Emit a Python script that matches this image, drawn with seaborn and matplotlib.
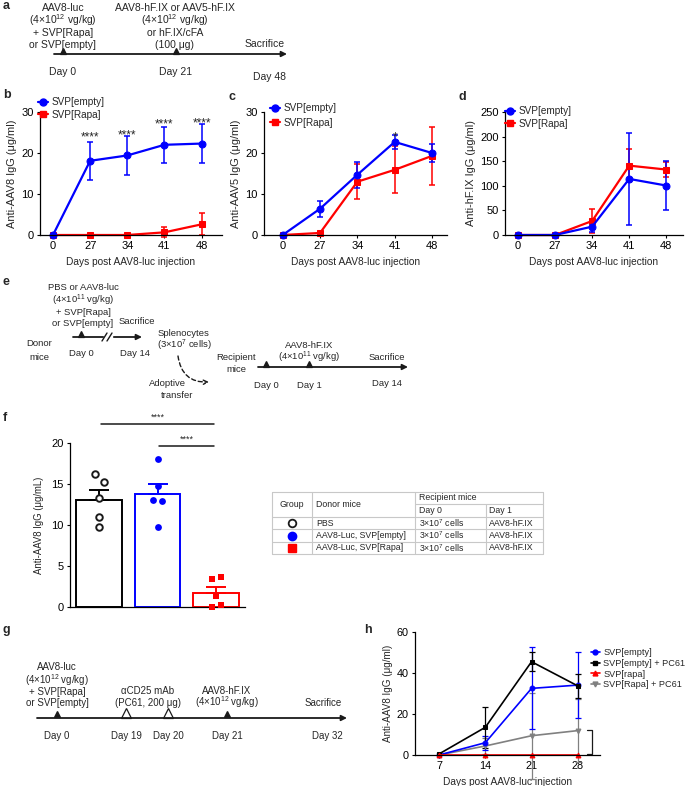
import numpy as np
import pandas as pd
import matplotlib
matplotlib.use("Agg")
import matplotlib.pyplot as plt
import seaborn as sns
from matplotlib.lines import Line2D

# ---------------- data ----------------
days_bcd = [0, 27, 34, 41, 48]

b_empty = [0, 18.1, 19.4, 22.0, 22.3]
b_empty_err = [0, 4.7, 4.8, 4.4, 4.85]
b_rapa = [0, 0, 0, 0.65, 2.6]
b_rapa_err = [0, 0, 0, 1.2, 2.7]
b_stars = ["", "****", "****", "****", "****"]
b_star_y = [0, 25.1, 25.7, 28.3, 28.7]

c_empty = [0, 6.4, 14.7, 22.7, 20.0]
c_empty_err = [0, 2.0, 3.2, 1.7, 2.2]
c_rapa = [0, 0.5, 13.0, 15.9, 19.3]
c_rapa_err = [0, 0, 4.3, 5.7, 7.0]
c_stars = ["", "", "", "*", ""]
c_star_y = [0, 0, 0, 25.1, 0]

d_empty = [0, 0, 17, 114, 100.5]
d_empty_err = [0, 0, 10, 93, 50]
d_rapa = [0, 0, 28.5, 141, 133]
d_rapa_err = [0, 0, 24, 33, 16]

f_groups = ["PBS", "AAV8-Luc, SVP[empty]", "AAV8-Luc, SVP[Rapa]"]
f_means = [13.1, 13.8, 1.75]
f_sem = [1.2, 1.25, 0.75]
f_pbs = [16.2, 15.2, 13.3, 11.0, 9.75]
f_empty = [18.0, 14.75, 13.1, 12.9, 9.75]
f_rapa = [3.4, 3.6, 1.35, 0.05, 0.2]

h_days = [7, 14, 21, 28]
h_empty = [0, 6.0, 32.5, 34.1]
h_empty_err = [0, 3.4, 20, 16]
h_empty_pc61 = [0.5, 13.5, 45.5, 33.7]
h_empty_pc61_err = [0, 10, 4.6, 5.7]
h_rapa = [0, 0, 0, 0]
h_rapa_err = [0, 0, 0, 0]
h_rapa_pc61 = [0, 4.4, 9.4, 11.9]
h_rapa_pc61_err = [0, 4, 21, 15.4]

BLUE = "#0000ff"
RED = "#ff0000"
GRAY = "#808080"

# ---------------- style ----------------
sns.set_theme(style="ticks")
plt.rcParams.update({
    "font.family": ["Liberation Sans", "DejaVu Sans"],
    "font.size": 7.5,
    "mathtext.fontset": "custom",
    "mathtext.rm": "Liberation Sans",
    "mathtext.it": "Liberation Sans:italic",
    "mathtext.bf": "Liberation Sans:bold",
    "mathtext.default": "rm",
    "axes.linewidth": 0.9,
    "axes.edgecolor": "black",
    "xtick.color": "black",
    "ytick.color": "black",
})

W, H = 685, 786
fig = plt.figure(figsize=(W / 100, H / 100), dpi=100)

ov = fig.add_axes([0, 0, 1, 1])
ov.set_xlim(0, W)
ov.set_ylim(H, 0)
ov.axis("off")


def px_axes(L, T, R, B):
    return fig.add_axes([L / W, 1 - B / H, (R - L) / W, (B - T) / H])


def txt(x, y, s, ha="center", va="center", size=7.5, **kw):
    ov.text(x, y, s, ha=ha, va=va, fontsize=size, **kw)


def stack(x, ys, lines, size=7.5):
    # ys are baselines
    for y, s in zip(ys, lines):
        txt(x, y, s, size=size, va="baseline")


def arrow(x0, x1, y):
    ov.annotate("", xy=(x1, y), xytext=(x0, y),
                arrowprops=dict(arrowstyle="-|>", color="k", lw=1.3,
                                mutation_scale=8, shrinkA=0, shrinkB=0))


def tri(x, y, filled=True, ms=5):
    ov.plot([x], [y], marker="^", ms=ms, mfc="k" if filled else "white",
            mec="k", mew=0.9, ls="none")


def letter(x, y, s):
    txt(x, y, s, ha="left", size=9, weight="bold")


# ---------------- panel a ----------------
letter(3, 6, "a")
stack(63, [11, 24, 36.5, 48], ["AAV8-luc", "(4×10$^{12}$ vg/kg)", "+ SVP[Rapa]", "or SVP[empty]"])
stack(175, [11, 24, 36.5, 48], ["AAV8-hF.IX or AAV5-hF.IX", "(4×10$^{12}$ vg/kg)", "or hF.IX/cFA", "(100 μg)"])
arrow(54, 287, 54)
tri(63, 50.5)
tri(176, 50.5)
txt(63, 72, "Day 0")
txt(176, 72, "Day 21")
txt(270, 77, "Day 48")
txt(265, 44, "Sacrifice")

# ---------------- panel e ----------------
es = 6.8
letter(3, 282, "e")
stack(83, [290.5, 303.5, 315, 326], ["PBS or AAV8-luc", "(4×10$^{11}$ vg/kg)", "+ SVP[Rapa]", "or SVP[empty]"], size=es)
txt(137, 322, "Sacrifice", size=es)
arrow(73, 142, 337)
ov.add_patch(plt.Rectangle((104, 333), 8, 8, color="white", zorder=3))
ov.plot([102, 107], [341, 333], color="k", lw=1.0, zorder=4)
ov.plot([107, 112], [341, 333], color="k", lw=1.0, zorder=4)
tri(81, 333.5)
txt(39, 344, "Donor", size=es)
txt(39, 357, "mice", size=es)
txt(81, 353, "Day 0", size=es)
txt(135, 353, "Day 14", size=es)
txt(184, 333, "Splenocytes", size=es)
txt(184, 345, "(3×10$^{7}$ cells)", size=es)
ov.annotate("", xy=(209, 382), xytext=(178, 356),
            arrowprops=dict(arrowstyle="->", color="k", lw=1.0, ls=(0, (3, 2)),
                            connectionstyle="arc3,rad=0.45", shrinkA=0, shrinkB=0))
txt(167, 384, "Adoptive", size=es)
txt(177, 396, "transfer", size=es)
txt(236, 358, "Recipient", size=es)
txt(236, 370, "mice", size=es)
arrow(258, 408, 367)
tri(266, 363.5)
tri(309, 363.5)
txt(266, 385, "Day 0", size=es)
txt(309, 385, "Day 1", size=es)
txt(387, 383, "Day 14", size=es)
txt(309, 345, "AAV8-hF.IX", size=es)
txt(309, 357, "(4×10$^{11}$ vg/kg)", size=es)
txt(387, 358, "Sacrifice", size=es)

# ---------------- panel g ----------------
gs = 7
letter(3, 630, "g")
stack(57, [670.5, 683.5, 695, 706.5], ["AAV8-luc", "(4×10$^{12}$ vg/kg)", "+ SVP[Rapa]", "or SVP[empty]"], size=gs)
stack(148, [693.5, 706.5], ["αCD25 mAb", "(PC61, 200 μg)"], size=gs)
stack(227, [693.5, 706.5], ["AAV8-hF.IX", "(4×10$^{12}$ vg/kg)"], size=gs)
txt(323, 706.5, "Sacrifice", size=gs, va="baseline")
arrow(37, 347, 718)
tri(57, 714)
tri(126, 713, filled=False, ms=7)
tri(168, 713, filled=False, ms=7)
tri(227, 714)
for x, s in [(57, "Day 0"), (126, "Day 19"), (168, "Day 20"), (227, "Day 21"), (327, "Day 32")]:
    txt(x, 736, s, size=gs)

# ---------------- table ----------------
x0, x1, x2, x3, x4 = 272, 312, 415, 486, 543
y0, ys, y1, y2, y3, y4 = 492, 504, 517, 529, 542, 554
lc = dict(color="#c8c8c8", lw=0.8)
for y in [y0, y1, y2, y3, y4]:
    ov.plot([x0, x4], [y, y], **lc)
ov.plot([x2, x4], [ys, ys], **lc)
for x in [x0, x1, x2, x4]:
    ov.plot([x, x], [y0, y4], **lc)
ov.plot([x3, x3], [ys, y4], **lc)
ts = 6.3
txt((x0 + x1) / 2, (y0 + y1) / 2, "Group", size=ts)
txt(x1 + 4, (y0 + y1) / 2, "Donor mice", ha="left", size=ts)
txt(x2 + 4, (y0 + ys) / 2, "Recipient mice", ha="left", size=ts)
txt(x2 + 4, (ys + y1) / 2, "Day 0", ha="left", size=ts)
txt(x3 + 3, (ys + y1) / 2, "Day 1", ha="left", size=ts)
row_y = [(y1 + y2) / 2, (y2 + y3) / 2, (y3 + y4) / 2]
row_mk = [dict(marker="o", mfc="white", mec="k", mew=1.3, ms=5.5),
          dict(marker="o", mfc=BLUE, mec=BLUE, ms=6),
          dict(marker="s", mfc=RED, mec=RED, ms=5.5)]
for yy, g, mk in zip(row_y, f_groups, row_mk):
    ov.plot([(x0 + x1) / 2], [yy], ls="none", **mk)
    txt(x1 + 4, yy, g, ha="left", size=ts)
    txt(x2 + 4, yy, "3×10$^{7}$ cells", ha="left", size=ts)
    txt(x3 + 3, yy, "AAV8-hF.IX", ha="left", size=ts)


# ---------------- line panels ----------------
def line_panel(ax, xlabels, series, ylim, yticks, ylabel, xlim, lw=1.6, ms=5, cap=2.5,
               elw=1.1, tfs=8, yfs=7.9, xfs=7.3):
    rows = []
    for name, vals, errs, color, marker in series:
        for i, v in enumerate(vals):
            rows.append(dict(pos=i, val=v, group=name))
    df = pd.DataFrame(rows)
    names = [s[0] for s in series]
    sns.lineplot(data=df, x="pos", y="val", hue="group", style="group",
                 hue_order=names, style_order=names,
                 palette={s[0]: s[3] for s in series},
                 markers={s[0]: s[4] for s in series}, dashes=False,
                 linewidth=lw, markersize=ms, ax=ax, legend=False)
    for ln in ax.lines:
        ln.set_markeredgecolor(ln.get_color())
        ln.set_clip_on(False)
    for name, vals, errs, color, marker in series:
        idx = [i for i, e in enumerate(errs) if e > 0]
        if idx:
            cont = ax.errorbar(idx, [vals[i] for i in idx], yerr=[errs[i] for i in idx],
                               fmt="none", ecolor=color, elinewidth=elw, capsize=cap,
                               capthick=elw, zorder=1.5)
            for a in cont.get_children():
                a.set_clip_on(False)
    ax.set_xlim(*xlim)
    ax.set_ylim(*ylim)
    ax.set_xticks(range(len(xlabels)))
    ax.set_xticklabels([str(v) for v in xlabels])
    ax.set_yticks(yticks)
    ax.set_ylabel(ylabel, fontsize=yfs, labelpad=3)
    ax.set_xlabel("Days post AAV8-luc injection", fontsize=xfs, labelpad=4)
    ax.tick_params(length=2.5, width=0.8, pad=2, labelsize=tfs)
    sns.despine(ax=ax)
    ax.set_facecolor("none")


def small_legend(ax, entries, anchor, ms=5, lw=1.6, spacing=0.25, fs=7.2):
    hs = [Line2D([], [], color=c, marker=m, ms=ms, lw=lw, mec=c) for _, c, m in entries]
    ax.legend(hs, [e[0] for e in entries], loc="upper left", bbox_to_anchor=anchor,
              frameon=False, fontsize=fs, handlelength=1.0, handletextpad=0.35,
              labelspacing=spacing, borderpad=0, borderaxespad=0)


# panel b
axb = px_axes(40, 112, 222, 235)
line_panel(axb, days_bcd,
           [("SVP[Rapa]", b_rapa, b_rapa_err, RED, "s"),
            ("SVP[empty]", b_empty, b_empty_err, BLUE, "o")],
           (0, 30), [0, 10, 20, 30], "Anti-AAV8 IgG (μg/ml)", (-0.35, 4.55))
for i, s in enumerate(b_stars):
    if s:
        axb.text(i, b_star_y[i] - 1.4, s, ha="center", va="center", fontsize=8.5)
small_legend(axb, [("SVP[empty]", BLUE, "o"), ("SVP[Rapa]", RED, "s")], (-0.01, 1.12))
letter(3, 95, "b")

# panel c
axc = px_axes(264, 112, 447, 235)
line_panel(axc, days_bcd,
           [("SVP[Rapa]", c_rapa, c_rapa_err, RED, "s"),
            ("SVP[empty]", c_empty, c_empty_err, BLUE, "o")],
           (0, 30), [0, 10, 20, 30], "Anti-AAV5 IgG (μg/ml)", (-0.5, 4.4))
for i, s in enumerate(c_stars):
    if s:
        axc.text(i, c_star_y[i] - 1.4, s, ha="center", va="center", fontsize=8.5)
small_legend(axc, [("SVP[empty]", BLUE, "o"), ("SVP[Rapa]", RED, "s")], (0.035, 1.07), spacing=0.45)
letter(229, 97, "c")

# panel d
axd = px_axes(505, 112, 683, 235)
line_panel(axd, days_bcd,
           [("SVP[Rapa]", d_rapa, d_rapa_err, RED, "s"),
            ("SVP[empty]", d_empty, d_empty_err, BLUE, "o")],
           (0, 250), [0, 50, 100, 150, 200, 250], "Anti-hF.IX IgG (μg/ml)", (-0.35, 4.45))
small_legend(axd, [("SVP[empty]", BLUE, "o"), ("SVP[Rapa]", RED, "s")], (0.0, 1.045), spacing=0.25)
letter(459, 97, "d")

# ---------------- panel f ----------------
axf = px_axes(70, 443, 245, 607)
dff = pd.DataFrame({"group": f_groups, "mean": f_means})
fcols = ["black", BLUE, RED]
sns.barplot(data=dff, x="group", y="mean", hue="group", order=f_groups, hue_order=f_groups,
            palette=dict(zip(f_groups, fcols)), fill=False, width=0.78, linewidth=1.4,
            legend=False, ax=axf, errorbar=None)
for i, (m, e, c) in enumerate(zip(f_means, f_sem, fcols)):
    axf.errorbar([i], [m], yerr=[[0], [e]], fmt="none", ecolor=c, elinewidth=1.4,
                 capsize=7.5, capthick=1.4)
offs = [-0.075, 0.085, 0.0, 0.0, 0.0]
offs_r = [-0.07, 0.085, 0.0, -0.07, 0.085]
axf.scatter([0 + o for o in offs], f_pbs, s=22, facecolor="white", edgecolor="k",
            linewidth=1.4, zorder=3, clip_on=False)
axf.scatter([1 + o for o in [0, 0, -0.075, 0.085, 0]], f_empty, s=24, color=BLUE,
            linewidth=0, zorder=3, clip_on=False)
axf.scatter([2 + o for o in offs_r], f_rapa, s=24, marker="s", color=RED,
            linewidth=0, zorder=3, clip_on=False)
axf.set_xlim(-0.5, 2.5)
axf.set_ylim(0, 20)
axf.set_yticks([0, 5, 10, 15, 20])
axf.set_xticks([])
axf.set_xlabel("")
axf.set_ylabel("Anti-AAV8 IgG (μg/mL)", fontsize=6.9, labelpad=5)
axf.tick_params(length=2.5, width=0.8, pad=2, labelsize=8)
sns.despine(ax=axf)
axf.plot([0.03, 1.96], [22.3, 22.3], color="k", lw=1.1, clip_on=False)
axf.text(1.0, 22.55, "****", ha="center", va="bottom", fontsize=6.5)
axf.plot([1.03, 1.96], [19.6, 19.6], color="k", lw=1.1, clip_on=False)
axf.text(1.5, 19.85, "****", ha="center", va="bottom", fontsize=6.5)
letter(3, 418, "f")

# ---------------- panel h ----------------
axh = px_axes(415, 632, 600, 755)
line_panel(axh, h_days,
           [("SVP[Rapa] + PC61", h_rapa_pc61, h_rapa_pc61_err, GRAY, "v"),
            ("SVP[empty]", h_empty, h_empty_err, BLUE, "o"),
            ("SVP[empty] + PC61", h_empty_pc61, h_empty_pc61_err, "black", "s"),
            ("SVP[rapa]", h_rapa, h_rapa_err, RED, "^")],
           (0, 60), [0, 20, 40, 60], "Anti-AAV8 IgG (μg/ml)", (-0.52, 3.48),
           lw=1.2, ms=3.5, cap=2.2, elw=0.9, tfs=7.8, yfs=7.1, xfs=7.3)
hs = [("SVP[empty]", BLUE, "o"), ("SVP[empty] + PC61", "black", "s"),
      ("SVP[rapa]", RED, "^"), ("SVP[Rapa] + PC61", GRAY, "v")]
small_legend(axh, hs, (0.95, 0.87), ms=3.5, lw=1.2, spacing=0.2, fs=6.6)
axh.plot([3.2, 3.3, 3.3, 3.2], [12.4, 12.4, 0.5, 0.5], color="k", lw=0.9, clip_on=False)
letter(364, 630, "h")

fig.savefig("out.png", dpi=100)
